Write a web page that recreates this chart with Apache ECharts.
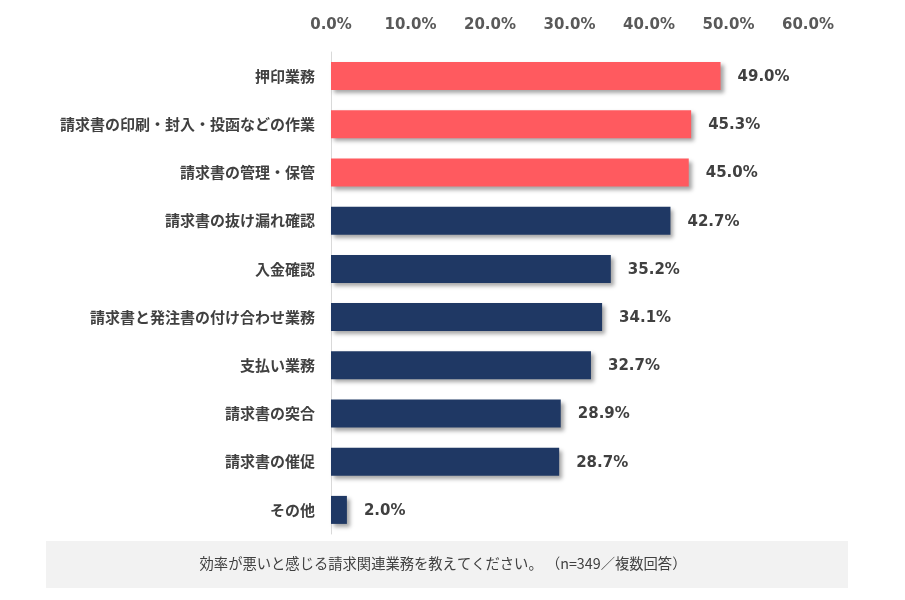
<!DOCTYPE html>
<html>
<head>
<meta charset="utf-8">
<script src="https://cdn.jsdelivr.net/npm/echarts@6/dist/echarts.min.js"></script>
<style>
html,body{margin:0;padding:0;background:#fff;}
#chart{width:905px;height:600px;}
</style>
</head>
<body>
<div id="chart"></div>
<script>
const categories = ['押印業務','請求書の印刷・封入・投函などの作業','請求書の管理・保管','請求書の抜け漏れ確認','入金確認','請求書と発注書の付け合わせ業務','支払い業務','請求書の突合','請求書の催促','その他'];
const values = [49.0,45.3,45.0,42.7,35.2,34.1,32.7,28.9,28.7,2.0];
const highlightCount = 3;
const xTicks = [0,10,20,30,40,50,60];
const caption = '効率が悪いと感じる請求関連業務を教えてください。 （n=349／複数回答）';

const chart = echarts.init(document.getElementById('chart'));
chart.setOption({
  animation:false,
  backgroundColor:'#ffffff',
  grid:{left:331,right:97,top:52,height:482},
  xAxis:{
    type:'value',position:'top',min:xTicks[0],max:xTicks[xTicks.length-1],interval:10,
    axisLine:{show:false},axisTick:{show:false},splitLine:{show:false},
    axisLabel:{margin:19,color:'#595959',fontSize:15,fontWeight:'bold',fontFamily:'DejaVu Sans',
      formatter:v=>v.toFixed(1)+'%'}
  },
  yAxis:{
    type:'category',inverse:true,data:categories,
    axisLine:{show:true,lineStyle:{color:'#d9d9d9',width:1}},
    axisTick:{show:false},
    axisLabel:{margin:16,color:'#404040',fontSize:15,fontWeight:'bold',fontFamily:'Noto Sans CJK JP'}
  },
  series:[{
    type:'bar',data:values,barWidth:28,
    itemStyle:{
      color:p=>p.dataIndex<highlightCount?'#FF5A5F':'#1F3864',
      shadowBlur:4,shadowOffsetX:3,shadowOffsetY:3,shadowColor:'rgba(0,0,0,0.35)'
    },
    label:{show:true,position:'right',distance:17,offset:[0,1],color:'#404040',fontSize:15,fontWeight:'bold',
      fontFamily:'DejaVu Sans',formatter:p=>p.value.toFixed(1)+'%'}
  }],
  graphic:[
    {type:'rect',left:46,top:541,shape:{width:802,height:47},style:{fill:'#f2f2f2'},z:0},
    {type:'text',x:443,y:564,style:{text:caption,fill:'#404040',fontSize:14.3,fontFamily:'Noto Sans CJK JP',
      align:'center',verticalAlign:'middle'},z:1}
  ]
});
</script>
</body>
</html>
